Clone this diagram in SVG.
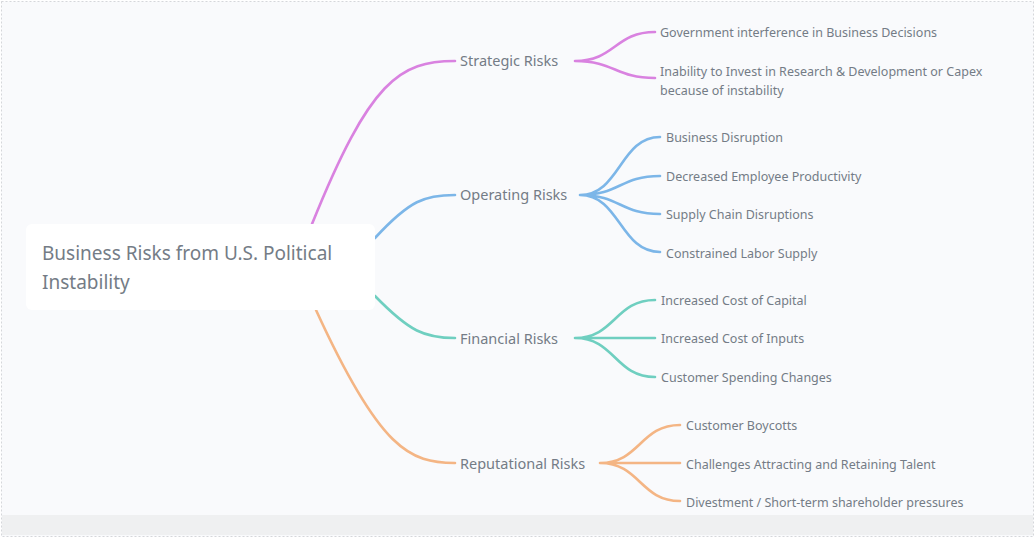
<svg xmlns="http://www.w3.org/2000/svg" width="1036" height="539" viewBox="0 0 1036 539">
<style>
text{font-family:"Noto Sans","DejaVu Sans",sans-serif;fill:#747c86}
.b{font-size:14.5px}.l{font-size:12.5px}
path{fill:none;stroke-width:2.6;stroke-linecap:round}
.m{stroke:#d982e0}.u{stroke:#7cb6e8}.t{stroke:#6fcfc0}.o{stroke:#f4b584}
</style>
<rect x="0" y="0" width="1036" height="539" fill="#fff"/>
<rect x="1.5" y="1.5" width="1032" height="535" fill="#f9fafc" stroke="#d5d7da" stroke-dasharray="2 2"/>
<rect x="2" y="515" width="1031" height="20" fill="#eff0f1"/>
<g id="connectors">
<path class="m" d="M312 224 C370 80 400 61 455 61"/>
<path class="u" d="M375 238 C410 200 425 195 455 195"/>
<path class="t" d="M375 296 C410 332 425 338 455 338"/>
<path class="o" d="M316 310 C380 450 410 463 455 463"/>
<path class="m" d="M575 61 C615 61 615 32 655 32 M575 61 C615 61 615 78 655 78"/>
<path class="u" d="M580 195 C620 195 620 137 660 137 M580 195 C620 195 620 176 660 176 M580 195 C620 195 620 214 660 214 M580 195 C620 195 620 252 660 252"/>
<path class="t" d="M575 338 C615 338 615 300 655 300 M575 338 L655 338 M575 338 C615 338 615 377 655 377"/>
<path class="o" d="M600 463 C640 463 640 425 680 425 M600 463 L680 463 M600 463 C640 463 640 501 680 501"/>
</g>
<g id="root"><rect x="26" y="224" width="349" height="86" rx="6" fill="#fff"/>
<text x="42" y="260" font-size="19">Business Risks from U.S. Political</text>
<text x="42" y="289" font-size="19">Instability</text></g>
<g id="strategic"><text class="b" x="460" y="66">Strategic Risks</text></g>
<g id="operating"><text class="b" x="460" y="200">Operating Risks</text></g>
<g id="financial"><text class="b" x="460" y="344">Financial Risks</text></g>
<g id="reputational"><text class="b" x="460" y="469">Reputational Risks</text></g>
<g id="s1"><text class="l" x="660" y="37">Government interference in Business Decisions</text></g>
<g id="s2"><text class="l" x="660" y="76">Inability to Invest in Research &amp; Development or Capex</text><text class="l" x="660" y="95">because of instability</text></g>
<g id="o1"><text class="l" x="666" y="142">Business Disruption</text></g>
<g id="o2"><text class="l" x="666" y="181">Decreased Employee Productivity</text></g>
<g id="o3"><text class="l" x="666" y="219">Supply Chain Disruptions</text></g>
<g id="o4"><text class="l" x="666" y="258">Constrained Labor Supply</text></g>
<g id="f1"><text class="l" x="661" y="305">Increased Cost of Capital</text></g>
<g id="f2"><text class="l" x="661" y="343">Increased Cost of Inputs</text></g>
<g id="f3"><text class="l" x="661" y="382">Customer Spending Changes</text></g>
<g id="r1"><text class="l" x="686" y="430">Customer Boycotts</text></g>
<g id="r2"><text class="l" x="686" y="469">Challenges Attracting and Retaining Talent</text></g>
<g id="r3"><text class="l" x="686" y="507">Divestment / Short-term shareholder pressures</text></g>
</svg>
